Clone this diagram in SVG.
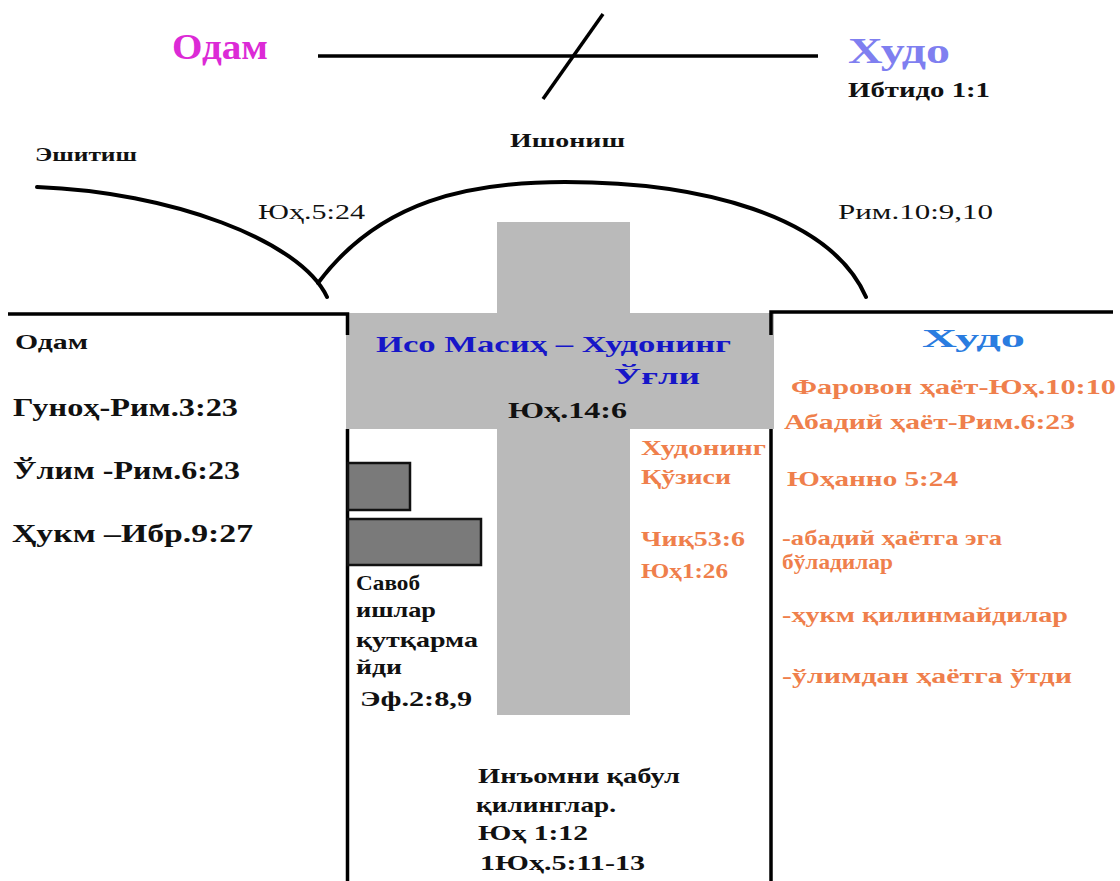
<svg xmlns="http://www.w3.org/2000/svg" width="1120" height="881" viewBox="0 0 1120 881">
<style>
.t{font-family:"Liberation Serif","DejaVu Serif",serif;font-weight:bold;}
.r{font-family:"Liberation Serif","DejaVu Serif",serif;font-weight:normal;}
.k{fill:#111;}
.o{fill:#ef7f4c;}
.ln{stroke:#000;stroke-width:3.5;fill:none;stroke-linecap:butt;}
.cv{stroke:#000;stroke-width:4;fill:none;stroke-linecap:round;}
.cross{fill:#bababa;}
.bar{fill:#7a7a7a;stroke:#111;stroke-width:2.5;}
</style>
<rect width="1120" height="881" fill="#fff"/>

<g id="cross">
<rect class="cross" x="497" y="222" width="133" height="493"/>
<rect class="cross" x="346" y="313" width="428" height="116"/>
</g>

<g id="connectors">
<line class="ln" x1="318" y1="56" x2="818" y2="56"/>
<line class="ln" x1="603" y1="14" x2="543" y2="99"/>
<path class="cv" d="M37,187 C170,192 300,240 327,297"/>
<path class="cv" d="M318,283 C380,200 470,182 565,182 C700,182 830,215 866,297"/>
<path class="ln" d="M8,314 H347.5 V335"/>
<path class="ln" d="M347.5,429 V881"/>
<path class="ln" d="M1113,312 H771 V335"/>
<path class="ln" d="M771,429 V881"/>
</g>

<g id="bars">
<rect class="bar" x="348" y="463" width="62" height="47"/>
<rect class="bar" x="348" y="519" width="133" height="46"/>
</g>

<g id="top">
<text class="t" x="172" y="59" font-size="35" fill="#dc2ad6" textLength="96" lengthAdjust="spacingAndGlyphs">Одам</text>
<text class="t" x="848" y="63" font-size="35" fill="#7f7ff0" textLength="102" lengthAdjust="spacingAndGlyphs">Худо</text>
<text class="t k" x="848" y="97" font-size="20" textLength="142" lengthAdjust="spacingAndGlyphs">Ибтидо  1:1</text>
<text class="t k" x="35" y="161" font-size="18" textLength="102" lengthAdjust="spacingAndGlyphs">Эшитиш</text>
<text class="t k" x="510" y="147" font-size="18" textLength="115" lengthAdjust="spacingAndGlyphs">Ишониш</text>
<text class="r k" x="258" y="219" font-size="21" textLength="107" lengthAdjust="spacingAndGlyphs">Юҳ.5:24</text>
<text class="r k" x="838" y="219" font-size="21" textLength="155" lengthAdjust="spacingAndGlyphs" font-weight="bold">Рим.10:9,10</text>
</g>

<g id="left">
<text class="t k" x="15" y="349" font-size="20" textLength="73" lengthAdjust="spacingAndGlyphs">Одам</text>
<text class="t k" x="13" y="416" font-size="25" textLength="225" lengthAdjust="spacingAndGlyphs">Гуноҳ-Рим.3:23</text>
<text class="t k" x="13" y="479" font-size="25" textLength="227" lengthAdjust="spacingAndGlyphs">Ўлим  -Рим.6:23</text>
<text class="t k" x="12" y="542" font-size="25" textLength="241" lengthAdjust="spacingAndGlyphs">Ҳукм  –Ибр.9:27</text>
</g>

<g id="center">
<text class="t" x="376" y="352" font-size="24" fill="#1616c8" textLength="355" lengthAdjust="spacingAndGlyphs">Исо  Масиҳ  –  Худонинг</text>
<text class="t" x="614" y="384" font-size="24" fill="#1616c8" textLength="86" lengthAdjust="spacingAndGlyphs">Ўғли</text>
<text class="t k" x="508" y="418" font-size="23" textLength="119" lengthAdjust="spacingAndGlyphs">Юҳ.14:6</text>
<text class="t o" x="641" y="455" font-size="21" textLength="125" lengthAdjust="spacingAndGlyphs">Худонинг</text>
<text class="t o" x="641" y="484" font-size="21" textLength="90" lengthAdjust="spacingAndGlyphs">Қўзиси</text>
<text class="t o" x="641" y="546" font-size="21" textLength="104" lengthAdjust="spacingAndGlyphs">Чиқ53:6</text>
<text class="t o" x="641" y="578" font-size="21" textLength="87" lengthAdjust="spacingAndGlyphs">Юҳ1:26</text>
</g>

<g id="works">
<text class="t k" x="356" y="590" font-size="21" textLength="64" lengthAdjust="spacingAndGlyphs">Савоб</text>
<text class="t k" x="356" y="617" font-size="21" textLength="80" lengthAdjust="spacingAndGlyphs">ишлар</text>
<text class="t k" x="356" y="647" font-size="21" textLength="122" lengthAdjust="spacingAndGlyphs">қутқарма</text>
<text class="t k" x="356" y="674" font-size="21" textLength="46" lengthAdjust="spacingAndGlyphs">йди</text>
<text class="t k" x="360" y="706" font-size="21" textLength="112" lengthAdjust="spacingAndGlyphs">Эф.2:8,9</text>
</g>

<g id="gift">
<text class="t k" x="478" y="783" font-size="21" textLength="202" lengthAdjust="spacingAndGlyphs">Инъомни  қабул</text>
<text class="t k" x="476" y="812" font-size="21" textLength="140" lengthAdjust="spacingAndGlyphs">қилинглар.</text>
<text class="t k" x="478" y="840" font-size="21" textLength="110" lengthAdjust="spacingAndGlyphs">Юҳ  1:12</text>
<text class="t k" x="480" y="870" font-size="21" textLength="165" lengthAdjust="spacingAndGlyphs">1Юҳ.5:11-13</text>
</g>

<g id="right">
<text class="t" x="922" y="347" font-size="26" fill="#2a7ce0" textLength="103" lengthAdjust="spacingAndGlyphs">Худо</text>
<text class="t o" x="791" y="394" font-size="22" textLength="325" lengthAdjust="spacingAndGlyphs">Фаровон  ҳаёт-Юҳ.10:10</text>
<text class="t o" x="784" y="429" font-size="22" textLength="291" lengthAdjust="spacingAndGlyphs">Абадий  ҳаёт-Рим.6:23</text>
<text class="t o" x="787" y="486" font-size="22" textLength="171" lengthAdjust="spacingAndGlyphs">Юҳанно  5:24</text>
<text class="t o" x="782" y="545" font-size="21" textLength="220" lengthAdjust="spacingAndGlyphs">-абадий  ҳаётга  эга</text>
<text class="t o" x="782" y="569" font-size="21" textLength="111" lengthAdjust="spacingAndGlyphs">бўладилар</text>
<text class="t o" x="782" y="622" font-size="21" textLength="286" lengthAdjust="spacingAndGlyphs">-ҳукм  қилинмайдилар</text>
<text class="t o" x="782" y="683" font-size="21" textLength="290" lengthAdjust="spacingAndGlyphs">-ўлимдан  ҳаётга  ўтди</text>
</g>
</svg>
